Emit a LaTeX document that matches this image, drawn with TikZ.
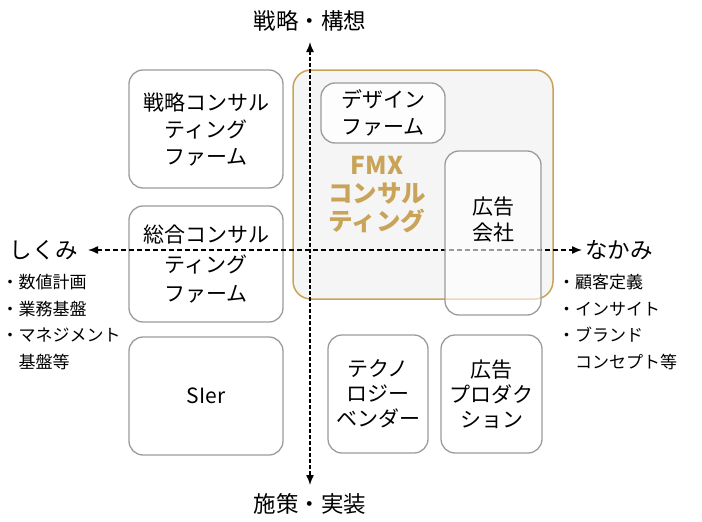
\documentclass[tikz,border=0pt]{standalone}
\usepackage{fontspec}
\setmainfont{Noto Sans CJK JP}
\usetikzlibrary{arrows.meta}
\definecolor{fmxgold}{RGB}{200,163,88}
\definecolor{boxgray}{RGB}{155,155,155}
\begin{document}
\begin{tikzpicture}[x=1pt,y=-1pt,
	cbox/.style={draw=boxgray,line width=1.3pt,rounded corners=14pt,align=center,inner sep=0pt,font=\fontsize{21}{27}\selectfont},
	axis/.style={line width=1.4pt,dash pattern=on 5pt off 3pt,{Latex[length=10pt,width=8pt]}-{Latex[length=10pt,width=8pt]}},
	axislabel/.style={inner sep=0pt,font=\fontsize{22.5}{26}\selectfont},
	memo/.style={anchor=west,align=left,inner sep=0pt,font=\fontsize{17}{26.5}\selectfont}]
	\useasboundingbox (0,0) rectangle (702,522);
	% companies
	\node[cbox,minimum width=154pt,minimum height=118pt] (strategy) at (206,129) {戦略コンサル\\ティング\\ファーム};
	\node[cbox,minimum width=154pt,minimum height=116pt,font=\fontsize{21}{29.5}\selectfont] (general) at (206,264) {総合コンサル\\ティング\\ファーム};
	\node[cbox,minimum width=154pt,minimum height=118pt] (sier) at (206,396) {SIer};
	\node[cbox,minimum width=100pt,minimum height=118pt,font=\fontsize{21}{25}\selectfont] (tech) at (378,394) {テクノ\\ロジー\\ベンダー};
	\node[cbox,minimum width=101pt,minimum height=118pt,font=\fontsize{21}{25}\selectfont] (adprod) at (491.5,394) {広告\\プロダク\\ション};
	% FMX
	\node[draw=fmxgold,fill=black!4,line width=1.5pt,rounded corners=18pt,minimum width=260pt,minimum height=229pt] (fmx) at (423,184.5) {};
	\node[cbox,fill=white,fill opacity=.8,text opacity=1,minimum width=124pt,minimum height=60pt] (design) at (383,113) {デザイン\\ファーム};
	\node[align=center,text=fmxgold,font=\fontsize{24.5}{28}\selectfont\bfseries] (fmxlabel) at (377,195) {FMX\\コンサル\\ティング};
	% axes
	\coordinate (ytop) at (310,42);
	\coordinate (ybot) at (310,485);
	\coordinate (xleft) at (88,250);
	\coordinate (xright) at (582,250);
	\draw[axis,dash pattern=on 4pt off 2pt] (ytop)--(ybot);
	\draw[axis] (xleft)--(xright);
	\node[axislabel] (plan) at (310,21) {戦略・構想};
	\node[axislabel] (exec) at (310,504) {施策・実装};
	\node[axislabel] (shikumi) at (44,250) {しくみ};
	\node[axislabel] (nakami) at (619,250) {なかみ};
	\node[memo] (shikumilist) at (1.5,322) {・数値計画\\・業務基盤\\・マネジメント\\\hphantom{・}基盤等};
	\node[memo] (nakamilist) at (558,322) {・顧客定義\\・インサイト\\・ブランド\\\hphantom{・}コンセプト等};
	% ad agency over the axis
	\node[cbox,fill=white,fill opacity=.6,minimum width=96pt,minimum height=164pt] (adagency) at (493,233) {};
	\node[align=center,inner sep=0pt,font=\fontsize{21}{26}\selectfont] (adagencylabel) at (493,220) {広告\\会社};
\end{tikzpicture}
\end{document}
